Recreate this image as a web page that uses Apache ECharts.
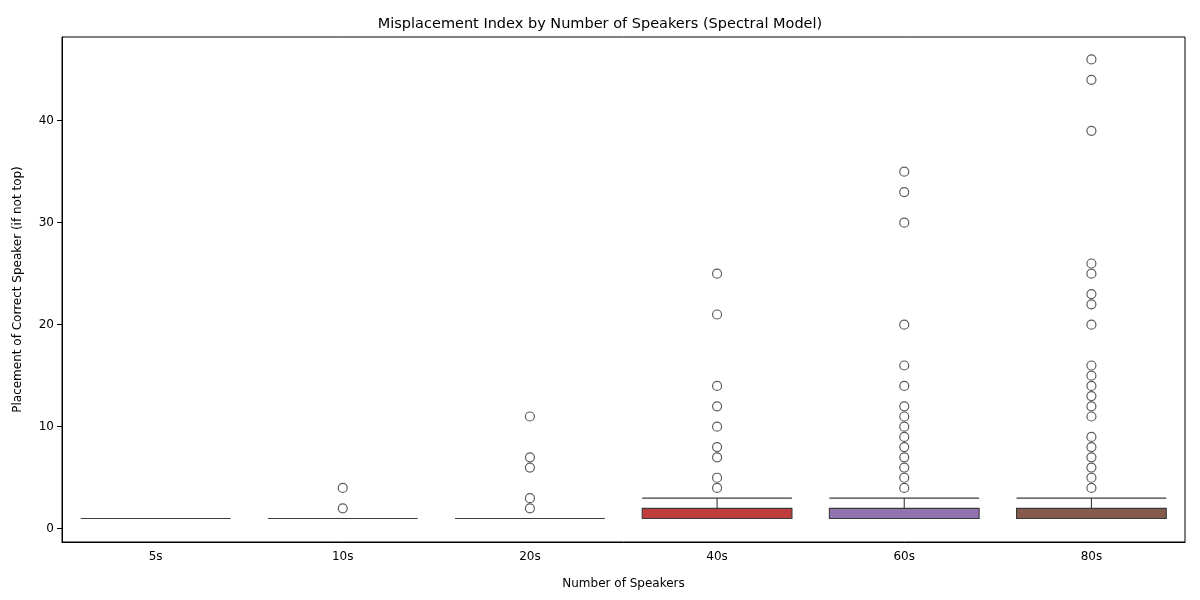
<!DOCTYPE html>
<html><head><meta charset="utf-8">
<script src="https://cdn.jsdelivr.net/npm/echarts@6/dist/echarts.min.js"></script>
<style>body{margin:0}#main{width:1200px;height:600px}</style>
</head><body><div id="main"></div>
<script>
const categories = ["5s", "10s", "20s", "40s", "60s", "80s"];
// [lower whisker, Q1, median, Q3, upper whisker]
const boxStats = [
  [1, 1, 1, 1, 1],
  [1, 1, 1, 1, 1],
  [1, 1, 1, 1, 1],
  [1, 1, 1, 2, 3],
  [1, 1, 1, 2, 3],
  [1, 1, 1, 2, 3]
];
const boxColors = ["#3274a1", "#e1812c", "#3a923a", "#c03d3e", "#9372b2", "#845b4d"];
const outliers = {
  "5s": [],
  "10s": [4, 2],
  "20s": [11, 7, 6, 3, 2],
  "40s": [25, 21, 14, 12, 10, 8, 7, 5, 4],
  "60s": [35, 33, 30, 20, 16, 14, 12, 11, 10, 9, 8, 7, 6, 5, 4],
  "80s": [46, 44, 39, 26, 25, 23, 22, 20, 16, 15, 14, 13, 12, 11, 9, 8, 7, 6, 5, 4]
};
const yTicks = [0, 10, 20, 30, 40];

const font = "DejaVu Sans";
const outlierPoints = [];
categories.forEach(c => outliers[c].forEach(v => outlierPoints.push([c, v])));

const chart = echarts.init(document.getElementById("main"));
chart.setOption({
  animation: false,
  textStyle: { fontFamily: font },
  title: { text: "Misplacement Index by Number of Speakers (Spectral Model)", left: "center", top: 12,
    textStyle: { fontFamily: font, fontSize: 14.5, fontWeight: "normal", color: "#000" } },
  grid: { left: 62, right: 15, top: 37, bottom: 58, show: true, borderColor: "#000", borderWidth: 1 },
  xAxis: {
    type: "category", data: categories, name: "Number of Speakers", nameLocation: "middle", nameGap: 36,
    nameTextStyle: { fontSize: 12, color: "#000" },
    axisLine: { onZero: false, lineStyle: { color: "#000" } },
    axisTick: { alignWithLabel: true, lineStyle: { color: "#000" } },
    axisLabel: { color: "#000", fontSize: 12, margin: 9 }, splitLine: { show: false }
  },
  yAxis: {
    type: "value", min: -1.3, max: 48.2, name: "Placement of Correct Speaker (if not top)",
    nameLocation: "middle", nameGap: 38, nameTextStyle: { fontSize: 12, color: "#000" },
    axisLine: { show: true, lineStyle: { color: "#000" } },
    axisTick: { show: true, customValues: yTicks, lineStyle: { color: "#000" } },
    axisLabel: { customValues: yTicks, color: "#000", fontSize: 12 },
    splitLine: { show: false }
  },
  series: [
    {
      type: "boxplot", boxWidth: ["80%", "80%"],
      data: boxStats.map((s, i) => ({ value: s, itemStyle: { color: boxColors[i], borderColor: "#3a3a3a", borderWidth: 1.1 } }))
    },
    {
      type: "scatter", data: outlierPoints, symbol: "circle", symbolSize: 9,
      itemStyle: { color: "rgba(0,0,0,0)", borderColor: "#333", borderWidth: 1.2 }
    }
  ]
});
</script></body></html>
